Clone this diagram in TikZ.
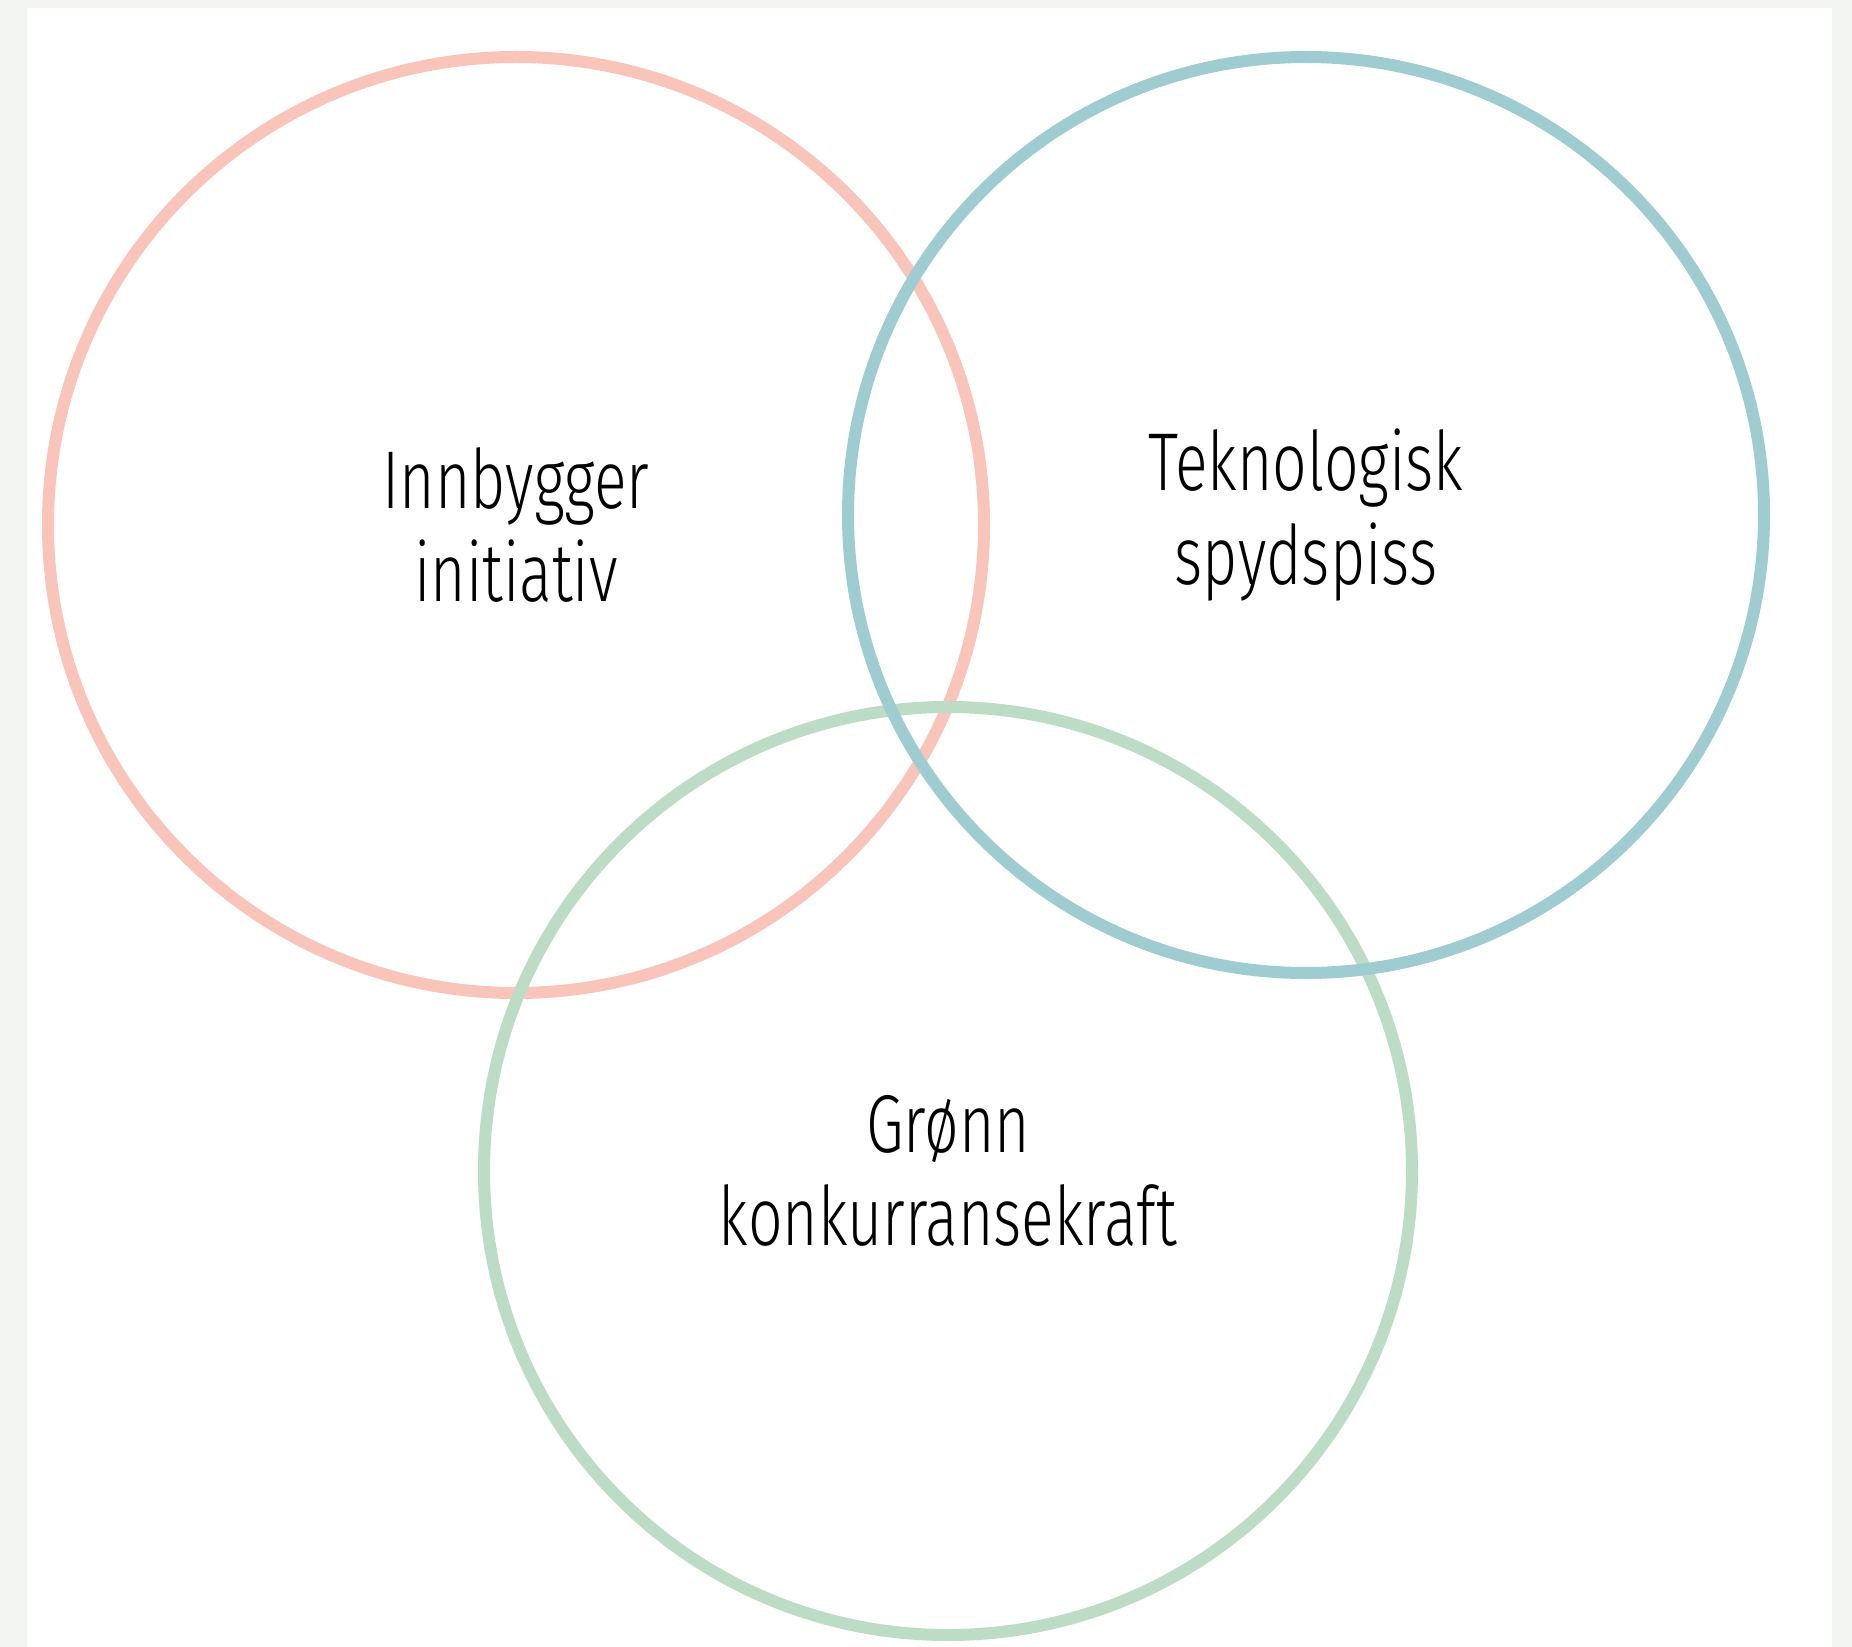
\documentclass[tikz,border=0pt]{standalone}
\usepackage{fontspec}
\setmainfont[FakeStretch=0.74, UprightFont=* Light]{Fira Sans}
\usepackage{tikz}

\definecolor{ringred}{RGB}{249,196,186}
\definecolor{ringblue}{RGB}{159,204,208}
\definecolor{ringgreen}{RGB}{189,220,197}
\definecolor{pagegrey}{RGB}{243,245,242}

\tikzset{
  ring/.style={circle, line width=3pt, inner sep=0pt, align=center,
    font=\fontsize{20.5}{23.3}\selectfont, text=black},
}

\begin{document}
\begin{tikzpicture}[x=0.25pt,y=0.25pt,yscale=-1]
		% page
		\fill[pagegrey] (0,0) rectangle (1852,1647);
		\fill[white] (27,8) rectangle (1832,1647);
		\useasboundingbox (0,0) rectangle (1852,1647);
		
		% Circle: red
		\node[ring, draw=ringred, minimum size=234pt] (innbygger) at (516,525) {Innbygger\\initiativ};
		% Circle: green
		\node[ring, draw=ringgreen, minimum size=232pt] (gronn) at (948,1171) {Grønn\\konkurransekraft};
		% Circle: blue
		\node[ring, draw=ringblue, minimum size=229pt] (teknologisk) at (1306,515) {Teknologisk\\spydspiss};
	\end{tikzpicture}
\end{document}
